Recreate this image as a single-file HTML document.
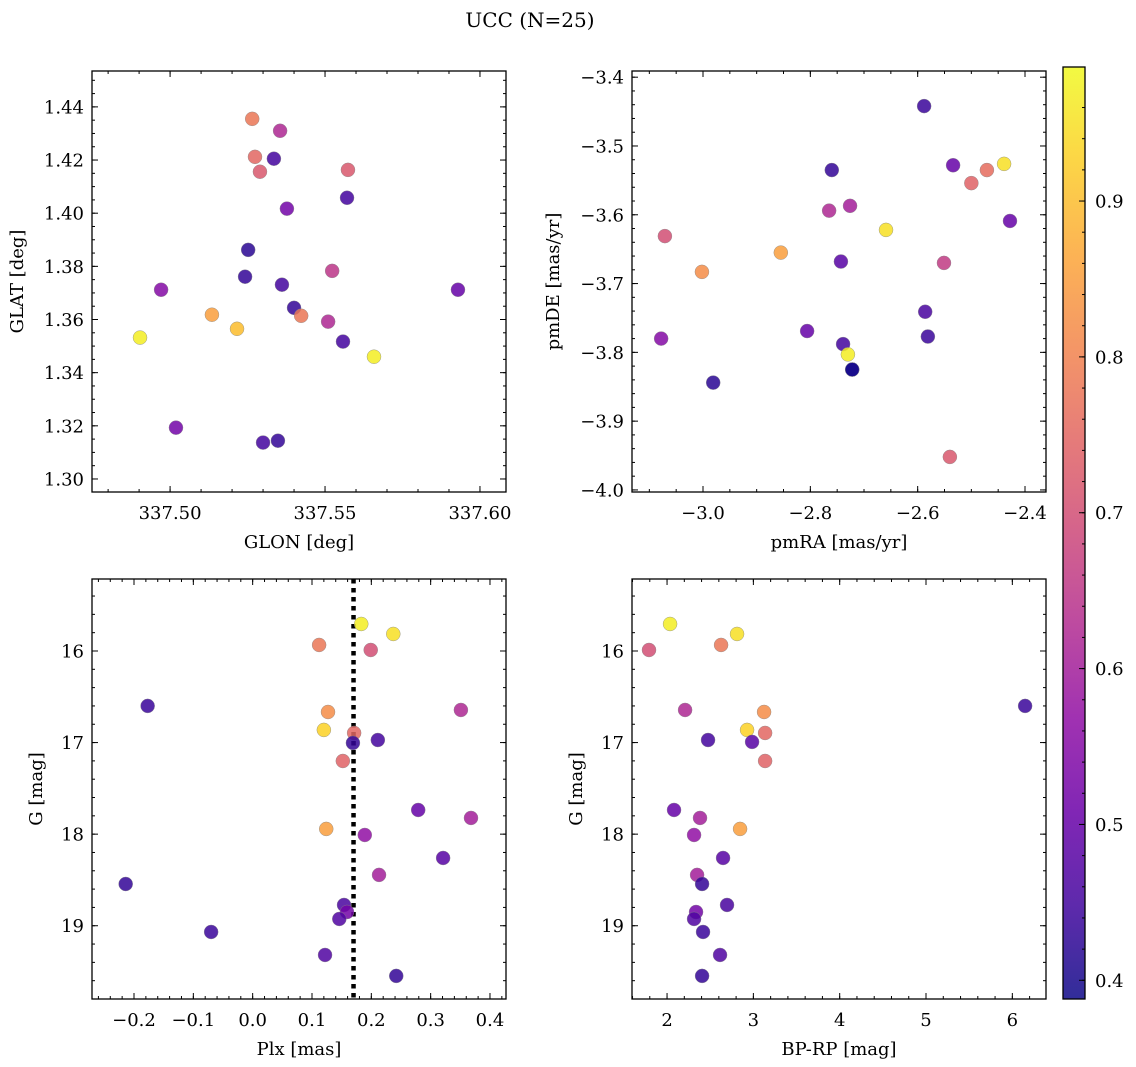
<!DOCTYPE html>
<html><head><meta charset="utf-8">
<style>
html,body{margin:0;padding:0;background:#fff;}
svg{display:block;font-family:"DejaVu Serif","Liberation Serif",serif;}
</style></head>
<body>
<svg id="fig" width="1136" height="1067" viewBox="0 0 1136 1067" xmlns="http://www.w3.org/2000/svg">
<text x="530" y="27" font-size="20" text-anchor="middle">UCC (N=25)</text>
</svg>
<script>
// ---- Panel 1: GLON vs GLAT ----
const glonVals=[337.5265,337.5355,337.5274,337.5335,337.529,337.5574,337.5377,337.5571,337.5252,337.5523,337.5242,337.4971,337.5929,337.5361,337.54,337.5135,337.5423,337.5216,337.4903,337.551,337.5558,337.5658,337.5019,337.53,337.5348];
const glatVals=[1.4355,1.431,1.4212,1.4205,1.4156,1.4163,1.4017,1.4058,1.3862,1.3783,1.3761,1.3712,1.3712,1.3731,1.3644,1.3618,1.3614,1.3565,1.3532,1.3592,1.3517,1.346,1.3193,1.3137,1.3144];
const probP1=[0.78,0.62,0.75,0.45,0.72,0.72,0.52,0.45,0.42,0.65,0.43,0.55,0.5,0.45,0.43,0.85,0.78,0.9,0.97,0.62,0.45,0.97,0.52,0.45,0.43];
// ---- Panel 2: pmRA vs pmDE ----
const pmraVals=[-2.588,-2.760,-2.534,-2.439,-2.471,-2.500,-2.765,-2.726,-2.428,-2.659,-3.071,-2.743,-2.551,-2.855,-3.002,-2.586,-2.806,-3.078,-2.581,-2.739,-2.730,-2.722,-2.722,-2.981,-2.540];
const pmdeVals=[-3.442,-3.535,-3.528,-3.526,-3.535,-3.554,-3.594,-3.587,-3.609,-3.622,-3.631,-3.668,-3.670,-3.655,-3.683,-3.741,-3.769,-3.780,-3.777,-3.788,-3.803,-3.825,-3.825,-3.844,-3.952];
const probP2=[0.44,0.43,0.5,0.95,0.76,0.74,0.62,0.6,0.5,0.95,0.7,0.48,0.66,0.85,0.82,0.46,0.5,0.55,0.44,0.45,0.97,0.45,0.38,0.42,0.72];
// ---- Panel 3: Plx vs G ----
const plxVals=[0.183,0.237,0.112,0.199,-0.177,0.127,0.351,0.120,0.171,0.169,0.211,0.152,0.279,0.368,0.124,0.189,0.321,0.213,-0.214,0.154,0.159,0.146,-0.070,0.122,0.242];
const gVals=[15.705,15.814,15.934,15.989,16.6,16.666,16.644,16.862,16.895,17.004,16.972,17.201,17.736,17.823,17.943,18.009,18.26,18.445,18.544,18.773,18.85,18.926,19.068,19.319,19.548];
const probP3=[0.97,0.95,0.78,0.7,0.44,0.82,0.62,0.93,0.75,0.43,0.45,0.74,0.5,0.6,0.85,0.57,0.48,0.6,0.43,0.46,0.52,0.47,0.44,0.47,0.43];
const plxRef=[0.17];
// ---- Panel 4: BP-RP vs G ----
const bprpVals=[2.035,2.811,2.626,1.791,6.148,3.124,2.209,2.927,3.136,2.985,2.475,3.136,2.081,2.382,2.846,2.313,2.649,2.348,2.406,2.695,2.336,2.313,2.417,2.614,2.406];
const gVals4=[15.705,15.814,15.934,15.989,16.6,16.666,16.644,16.862,16.895,16.993,16.972,17.201,17.736,17.823,17.943,18.009,18.26,18.445,18.544,18.773,18.85,18.926,19.068,19.319,19.548];
const probP4=[0.97,0.95,0.78,0.7,0.44,0.82,0.62,0.93,0.75,0.48,0.45,0.74,0.5,0.6,0.85,0.57,0.48,0.6,0.43,0.46,0.52,0.47,0.44,0.47,0.43];
// ---- Tick labels ----
const ticksGlon=[337.50,337.55,337.60];
const ticksGlat=[1.30,1.32,1.34,1.36,1.38,1.40,1.42,1.44];
const ticksPmra=[-3.0,-2.8,-2.6,-2.4];
const ticksPmde=[-4.0,-3.9,-3.8,-3.7,-3.6,-3.5,-3.4];
const ticksPlx=[-0.2,-0.1,0.0,0.1,0.2,0.3,0.4];
const ticksG=[16,17,18,19];
const ticksBprp=[2,3,4,5,6];
const ticksCbar=[0.4,0.5,0.6,0.7,0.8,0.9];

const NS="http://www.w3.org/2000/svg";
const svg=document.getElementById('fig');
const VMIN=0.388,VMAX=0.986;
const FS=18;
const plasma=[[13,8,135],[65,4,157],[106,0,168],[143,13,164],[177,42,144],[204,71,120],[225,100,98],[242,132,75],[252,166,54],[252,206,37],[240,249,33]];
function cmap(t){t=Math.max(0,Math.min(1,t));const f=t*10,i=Math.min(9,Math.floor(f)),r=f-i;const a=plasma[i],b=plasma[i+1];
 return 'rgb('+a.map((v,k)=>Math.round(v+(b[k]-v)*r)).join(',')+')';}
function mk(tag,attrs,parent){const e=document.createElementNS(NS,tag);for(const k in attrs)e.setAttribute(k,attrs[k]);(parent||svg).appendChild(e);return e;}
function fmt(v,d){return v.toFixed(d).replace('-','−');}

function panel(cfg){
 const {x0,x1,y0,y1,xmin,xmax,ymin,ymax,yInv}=cfg;
 const g=mk('g',{});
 
 
 const sx=v=>x0+(v-xmin)/(xmax-xmin)*(x1-x0);
 const sy=v=>yInv? y0+(v-ymin)/(ymax-ymin)*(y1-y0) : y1-(v-ymin)/(ymax-ymin)*(y1-y0);
 const ticks=mk('g',{stroke:'#000','stroke-width':1},g);
 
 
 for(let v=Math.ceil(xmin/cfg.xminor-1e-9)*cfg.xminor;v<=xmax+1e-9;v+=cfg.xminor){const x=sx(v);
  mk('line',{x1:x,x2:x,y1:y1,y2:y1-3},ticks);mk('line',{x1:x,x2:x,y1:y0,y2:y0+3},ticks);}
 for(let v=Math.ceil(Math.min(ymin,ymax)/cfg.yminor-1e-9)*cfg.yminor;v<=Math.max(ymin,ymax)+1e-9;v+=cfg.yminor){const y=sy(v);
  mk('line',{x1:x0,x2:x0+3,y1:y,y2:y},ticks);mk('line',{x1:x1,x2:x1-3,y1:y,y2:y},ticks);}
 cfg.xt.forEach(v=>{const x=sx(v);
  mk('line',{x1:x,x2:x,y1:y1,y2:y1-6},ticks);mk('line',{x1:x,x2:x,y1:y0,y2:y0+6},ticks);
  const t=mk('text',{x:x,y:y1+27,'font-size':FS,'text-anchor':'middle'},g);t.textContent=fmt(v,cfg.xd);
  
  });
 cfg.yt.forEach(v=>{const y=sy(v);
  mk('line',{x1:x0,x2:x0+6,y1:y,y2:y},ticks);mk('line',{x1:x1,x2:x1-6,y1:y,y2:y},ticks);
  const t=mk('text',{x:x0-8,y:y+6.5,'font-size':FS,'text-anchor':'end'},g);t.textContent=fmt(v,cfg.yd);
  
  });
 if(cfg.vline!==undefined){const x=sx(cfg.vline);
  const l=mk('line',{x1:x,x2:x,y1:y0,y2:y1,stroke:'#000','stroke-width':4.5,'stroke-dasharray':'4.5,4.5'},g);
  
  }
 const pts=mk('g',{},g);
 
 
 cfg.xs.forEach((xv,i)=>{const c=mk('circle',{cx:sx(xv),cy:sy(cfg.ys[i]),r:7,fill:cmap((cfg.p[i]-VMIN)/(VMAX-VMIN)),'fill-opacity':0.85,stroke:'#888','stroke-width':0.5,'stroke-opacity':0.8},pts);
  
  });
 const fr=mk('rect',{x:x0,y:y0,width:x1-x0,height:y1-y0,fill:'none',stroke:'#000','stroke-width':1.3},g);
 
 
 const xl=mk('text',{x:(x0+x1)/2,y:y1+56,'font-size':FS,'text-anchor':'middle'},g);xl.textContent=cfg.xlabel;
 
 
 const ly=(y0+y1)/2;
 const yl=mk('text',{x:cfg.ylx,y:ly,'font-size':FS,'text-anchor':'middle',transform:'rotate(-90 '+cfg.ylx+' '+ly+')'},g);yl.textContent=cfg.ylabel;
 
 
}

panel({name:'glon-glat-panel',x0:92,x1:506,y0:71,y1:492,xmin:337.4748,xmax:337.6084,ymin:1.2951,ymax:1.4535,xminor:0.01,yminor:0.005,xt:ticksGlon,yt:ticksGlat,xd:2,yd:2,xs:glonVals,ys:glatVals,p:probP1,xlabel:'GLON [deg]',ylabel:'GLAT [deg]',ylx:23});
panel({name:'pm-panel',x0:632,x1:1046,y0:71,y1:492,xmin:-3.1323,xmax:-2.3609,ymin:-4.003,ymax:-3.391,xminor:0.05,yminor:0.02,xt:ticksPmra,yt:ticksPmde,xd:1,yd:1,xs:pmraVals,ys:pmdeVals,p:probP2,xlabel:'pmRA [mas/yr]',ylabel:'pmDE [mas/yr]',ylx:559});
panel({name:'plx-g-panel',x0:92,x1:506,y0:579,y1:999,xmin:-0.2708,xmax:0.427,ymin:15.214,ymax:19.8,yInv:true,xminor:0.02,yminor:0.2,xt:ticksPlx,yt:ticksG,xd:1,yd:0,xs:plxVals,ys:gVals,p:probP3,vline:plxRef[0],xlabel:'Plx [mas]',ylabel:'G [mag]',ylx:42});
panel({name:'cmd-panel',x0:632,x1:1046,y0:579,y1:999,xmin:1.594,xmax:6.39,ymin:15.214,ymax:19.8,yInv:true,xminor:0.2,yminor:0.2,xt:ticksBprp,yt:ticksG,xd:0,yd:0,xs:bprpVals,ys:gVals4,p:probP4,xlabel:'BP-RP [mag]',ylabel:'G [mag]',ylx:582});

// colorbar
(function(){
 const cx0=1063,cx1=1085,cy0=67,cy1=999;
 const cb=mk('g',{});
 
 
 const defs=mk('defs',{},cb);
 const lg=mk('linearGradient',{id:'cbg',x1:0,y1:1,x2:0,y2:0},defs);
 for(let i=0;i<=20;i++){mk('stop',{offset:(i/20),'stop-color':cmap(i/20),'stop-opacity':0.85},lg);}
 mk('rect',{x:cx0,y:cy0,width:cx1-cx0,height:cy1-cy0,fill:'url(#cbg)',stroke:'#000','stroke-width':1.3},cb);
 const sy=v=>cy1-(v-VMIN)/(VMAX-VMIN)*(cy1-cy0);
 for(let v=0.4;v<=0.98;v+=0.02){const y=sy(v);mk('line',{x1:cx1,x2:cx1-3,y1:y,y2:y,stroke:'#000'},cb);}
 ticksCbar.forEach(v=>{const y=sy(v);mk('line',{x1:cx1,x2:cx1-6,y1:y,y2:y,stroke:'#000'},cb);
  const t=mk('text',{x:cx1+10,y:y+6.5,'font-size':FS},cb);t.textContent=v.toFixed(1);
  
  });
})();
</script>
</body></html>
